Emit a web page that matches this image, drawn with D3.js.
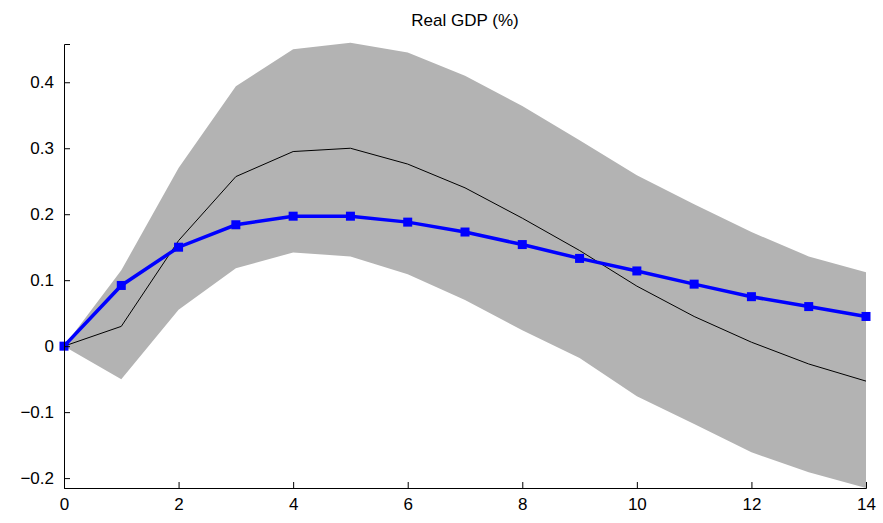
<!DOCTYPE html>
<html><head><meta charset="utf-8">
<script src="https://cdn.jsdelivr.net/npm/d3@7"></script>
<style>body{margin:0;background:#fff}text{font-family:"Liberation Sans",Arial,sans-serif}</style>
</head><body><div id="chart"></div>
<script>
var horizons = d3.range(0, 15);
var upper = [0, 0.115, 0.27, 0.394, 0.45, 0.46, 0.445, 0.41, 0.364, 0.312, 0.259, 0.215, 0.173, 0.136, 0.112];
var lower = [0, -0.05, 0.055, 0.118, 0.142, 0.136, 0.109, 0.07, 0.024, -0.018, -0.076, -0.118, -0.161, -0.191, -0.215];
var median = [0, 0.03, 0.16, 0.257, 0.295, 0.3, 0.276, 0.24, 0.194, 0.145, 0.091, 0.045, 0.006, -0.027, -0.053];
var model = [0, 0.092, 0.15, 0.184, 0.197, 0.197, 0.188, 0.173, 0.154, 0.133, 0.114, 0.094, 0.075, 0.06, 0.045];
var xTicks = [0, 2, 4, 6, 8, 10, 12, 14];
var yTicks = [-0.2, -0.1, 0, 0.1, 0.2, 0.3, 0.4];

var margin = {top: 44, left: 64, right: 17, bottom: 35};
var width = 883 - margin.left - margin.right, height = 523 - margin.top - margin.bottom;

var svg = d3.select("#chart").append("svg").attr("width", 883).attr("height", 523)
    .append("g").attr("transform", `translate(${margin.left},${margin.top})`);

var x = d3.scaleLinear().domain([0, 14]).range([0, width]);
var y = d3.scaleLinear().domain([-0.215, 0.458]).range([height, 0]);

svg.append("path").datum(horizons)
    .attr("fill", "#b3b3b3")
    .attr("d", d3.area().x(d => x(d)).y0(d => y(lower[d])).y1(d => y(upper[d])));

svg.append("path").datum(horizons)
    .attr("fill", "none").attr("stroke", "#000").attr("stroke-width", 1)
    .attr("d", d3.line().x(d => x(d)).y(d => y(median[d])));

svg.append("path").datum(horizons)
    .attr("fill", "none").attr("stroke", "#0000ff").attr("stroke-width", 3.5)
    .attr("d", d3.line().x(d => x(d)).y(d => y(model[d])));

svg.selectAll(".pt").data(horizons).enter().append("rect")
    .attr("x", d => x(d) - 4.5).attr("y", d => y(model[d]) - 4.5)
    .attr("width", 9).attr("height", 9).attr("fill", "#0000ff");

var xa = svg.append("g").attr("transform", `translate(0,${height})`)
    .call(d3.axisBottom(x).tickValues(xTicks).tickSize(-6).tickPadding(10).tickFormat(d3.format("d")));
var ya = svg.append("g")
    .call(d3.axisLeft(y).tickValues(yTicks).tickSize(-6).tickPadding(10).tickFormat(d => d === 0 ? "0" : d3.format(".1f")(d)));
[xa, ya].forEach(a => {
    a.selectAll("text").attr("font-size", 17).attr("fill", "#000");
    a.selectAll("line").attr("stroke", "#000");
    a.select(".domain").attr("stroke", "#000");
});

svg.append("text").attr("x", width / 2).attr("y", -18).attr("text-anchor", "middle")
    .attr("font-size", 17).text("Real GDP (%)");
</script></body></html>
